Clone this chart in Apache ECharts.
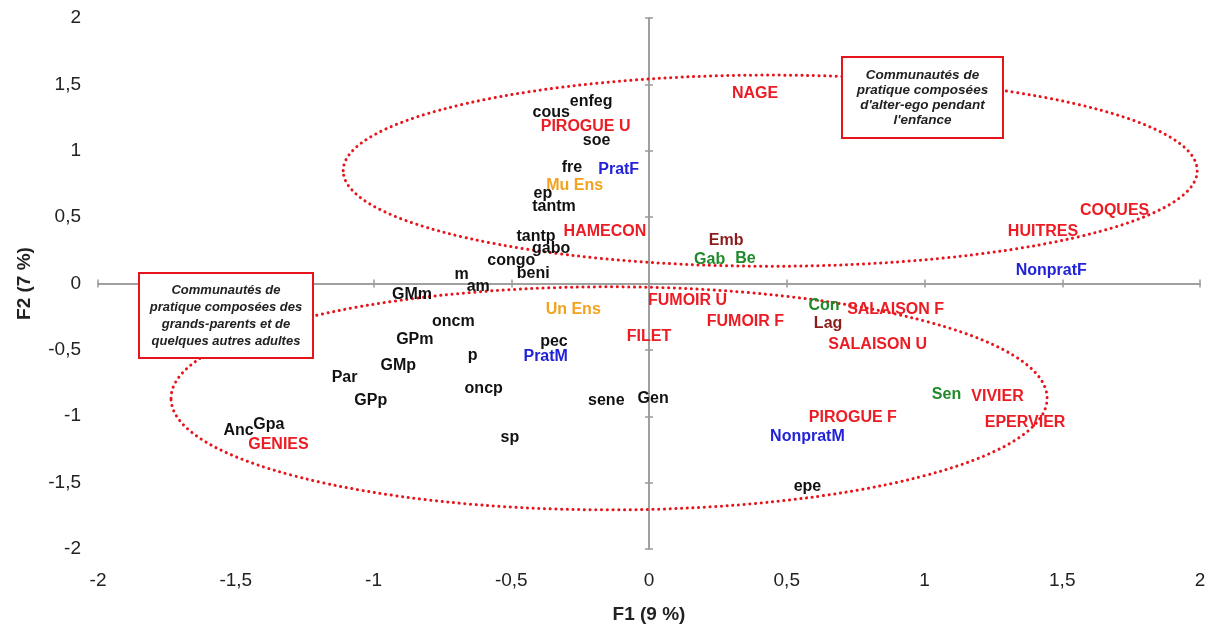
<!DOCTYPE html>
<html>
<head>
<meta charset="utf-8">
<script src="https://cdn.jsdelivr.net/npm/echarts@6/dist/echarts.min.js"></script>
<style>
html,body{margin:0;padding:0;background:#fff;}
#chart{width:1216px;height:630px;}
</style>
</head>
<body>
<div id="chart"></div>
<script>
// ---- Data ----
const names = ['enfeg','cous','PIROGUE U','soe','fre','PratF','Mu Ens','ep','tantm','tantp','HAMECON','gabo','congo','beni','m','am','GMm',
  'NAGE','Emb','Gab','Be','COQUES','HUITRES','NonpratF',
  'FUMOIR U','Un Ens','Con','SALAISON F','FUMOIR F','Lag','oncm','GPm','FILET','SALAISON U','pec','p','PratM','GMp','Par','GPp','oncp',
  'sene','Gen','Sen','VIVIER','PIROGUE F','EPERVIER','NonpratM','sp','Gpa','Anc','GENIES','epe'];
const f1 = [-0.21,-0.355,-0.23,-0.19,-0.28,-0.11,-0.27,-0.385,-0.345,-0.41,-0.16,-0.355,-0.50,-0.42,-0.68,-0.62,-0.86,
  0.385,0.28,0.22,0.35,1.69,1.43,1.46,
  0.14,-0.275,0.635,0.895,0.35,0.65,-0.71,-0.85,0.0,0.83,-0.345,-0.64,-0.375,-0.91,-1.105,-1.01,-0.60,
  -0.155,0.015,1.08,1.265,0.74,1.365,0.575,-0.505,-1.38,-1.49,-1.345,0.575];
const f2 = [1.37,1.29,1.18,1.08,0.87,0.86,0.74,0.68,0.58,0.35,0.39,0.26,0.17,0.075,0.07,-0.02,-0.08,
  1.43,0.32,0.18,0.19,0.55,0.39,0.10,
  -0.13,-0.195,-0.17,-0.195,-0.29,-0.30,-0.29,-0.42,-0.40,-0.46,-0.44,-0.54,-0.55,-0.62,-0.71,-0.88,-0.79,
  -0.88,-0.865,-0.835,-0.85,-1.01,-1.05,-1.15,-1.16,-1.06,-1.11,-1.21,-1.53];
const kinds = ['ind','ind','prat','ind','ind','sex','ens','ind','ind','ind','prat','ind','ind','ind','ind','ind','ind',
  'prat','lieu','eth','eth','prat','prat','sex',
  'prat','ens','eth','prat','prat','lieu','ind','ind','prat','prat','ind','ind','sex','ind','ind','ind','ind',
  'ind','ind','eth','prat','prat','prat','sex','ind','ind','ind','prat','ind'];
const xTicks = [-2,-1.5,-1,-0.5,0,0.5,1,1.5,2];
const yTicks = [-2,-1.5,-1,-0.5,0,0.5,1,1.5,2];

const colors = {ind:'#111111', prat:'#ec1c24', sex:'#2222d6', ens:'#f2a21f', eth:'#1f8a2a', lieu:'#8a1c1c'};

const chart = echarts.init(document.getElementById('chart'), null, {renderer:'canvas'});
const fmt = v => String(v).replace('.', ',');
const FONT = '"Liberation Sans", Arial, sans-serif';

const axisLineStyle = {color:'#9a9a9a', width:1.5};
function crossX(inside){
  return {type:'value', min:xTicks[0], max:xTicks[xTicks.length-1], interval:0.5, gridIndex:0,
    axisLine:{show:true, onZero:true, lineStyle:axisLineStyle},
    axisTick:{show:true, inside:inside, length:4, lineStyle:axisLineStyle},
    axisLabel:{show:false}, splitLine:{show:false}};
}
function crossY(inside){
  return {type:'value', min:yTicks[0], max:yTicks[yTicks.length-1], interval:0.5, gridIndex:0,
    axisLine:{show:true, onZero:true, lineStyle:axisLineStyle},
    axisTick:{show:true, inside:inside, length:4, lineStyle:axisLineStyle},
    axisLabel:{show:false}, splitLine:{show:false}};
}

const data = names.map((n,i)=>({
  name:n, value:[f1[i], f2[i]],
  label:{color:colors[kinds[i]]}
}));

chart.setOption({
  animation:false,
  backgroundColor:'#ffffff',
  grid:{left:98, right:16, top:18, bottom:81, containLabel:false},
  xAxis:[
    {type:'value', min:xTicks[0], max:xTicks[xTicks.length-1], interval:0.5, position:'bottom',
     axisLine:{show:false, onZero:false}, axisTick:{show:false}, splitLine:{show:false},
     axisLabel:{margin:22, fontSize:19, color:'#222', fontFamily:FONT, formatter:fmt},
     name:'F1 (9 %)', nameLocation:'middle', nameGap:56,
     nameTextStyle:{fontSize:19, fontWeight:'bold', color:'#222', fontFamily:FONT}},
    crossX(false), crossX(true)
  ],
  yAxis:[
    {type:'value', min:yTicks[0], max:yTicks[yTicks.length-1], interval:0.5, position:'left',
     axisLine:{show:false, onZero:false}, axisTick:{show:false}, splitLine:{show:false},
     axisLabel:{margin:17, fontSize:19, color:'#222', fontFamily:FONT, formatter:fmt},
     name:'F2 (7 %)', nameLocation:'middle', nameGap:64,
     nameTextStyle:{fontSize:19, fontWeight:'bold', color:'#222', fontFamily:FONT}},
    crossY(false), crossY(true)
  ],
  series:[{
    type:'scatter', xAxisIndex:0, yAxisIndex:0,
    symbolSize:1, itemStyle:{color:'rgba(0,0,0,0)', opacity:1},
    label:{show:true, position:'inside', formatter:'{b}', fontSize:16, fontWeight:'bold', fontFamily:FONT, opacity:1},
    emphasis:{disabled:true},
    data:data, z:5
  }]
});

// ---- Annotations: dotted ellipses (data units) and text boxes ----
const ellipses = [
  {cx:0.44, cy:0.85, rx:1.55, ry:0.72},
  {cx:-0.145, cy:-0.865, rx:1.59, ry:0.84}
];
const boxes = [
  {x:842, y:57, w:161, h:81, lh:15, fs:13.5, lines:['Communautés de','pratique composées',"d'alter-ego pendant","l'enfance"]},
  {x:139, y:273, w:174, h:85, lh:17, fs:13, lines:['Communautés de','pratique composées des','grands-parents et de','quelques autres adultes']}
];
const els = [];
ellipses.forEach(e=>{
  const c = chart.convertToPixel({gridIndex:0}, [e.cx, e.cy]);
  const p = chart.convertToPixel({gridIndex:0}, [e.cx+e.rx, e.cy+e.ry]);
  els.push({type:'ellipse', z:3, silent:true,
    shape:{cx:c[0], cy:c[1], rx:Math.abs(p[0]-c[0]), ry:Math.abs(c[1]-p[1])},
    style:{fill:null, stroke:'#e8141c', lineWidth:3, lineDash:[0.1,5.6], lineCap:'round'}});
});
boxes.forEach(b=>{
  els.push({type:'rect', z:10, silent:true, shape:{x:b.x, y:b.y, width:b.w, height:b.h},
    style:{fill:'#ffffff', stroke:'#e8141c', lineWidth:2}});
  els.push({type:'text', z:11, silent:true, x:b.x+b.w/2, y:b.y+b.h/2,
    style:{text:b.lines.join('\n'), align:'center', verticalAlign:'middle', lineHeight:b.lh,
      font:'italic bold ' + b.fs + 'px ' + FONT, fill:'#222'}});
});
chart.setOption({graphic:{elements:els}});
</script>
</body>
</html>
